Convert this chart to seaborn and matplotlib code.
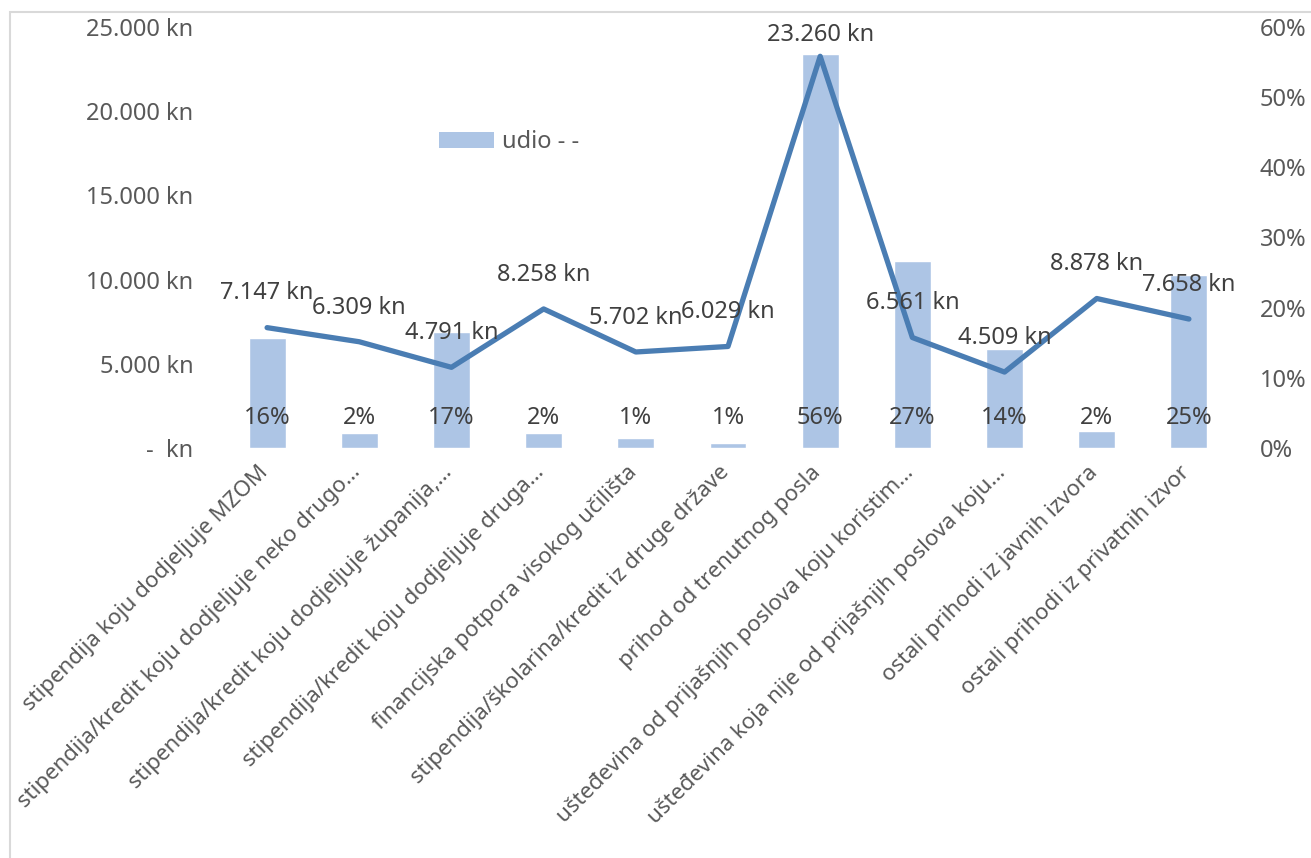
import matplotlib
matplotlib.use("Agg")
import matplotlib.pyplot as plt
import matplotlib.transforms as mtransforms
from matplotlib.patches import Rectangle, Patch
import seaborn as sns
import pandas as pd

# data
categories = [
    "stipendija koju dodjeljuje MZOM",
    "stipendija/kredit koju dodjeljuje neko drugo…",
    "stipendija/kredit koju dodjeljuje županija,…",
    "stipendija/kredit koju dodjeljuje druga…",
    "financijska potpora visokog učilišta",
    "stipendija/školarina/kredit iz druge države",
    "prihod od trenutnog posla",
    "ušteđevina od prijašnjih poslova koju koristim…",
    "ušteđevina koja nije od prijašnjih poslova koju…",
    "ostali prihodi iz javnih izvora",
    "ostali prihodi iz privatnih izvor",
]
udio = [15.7, 2.1, 16.6, 2.1, 1.4, 0.7, 56.2, 26.6, 14.1, 2.4, 24.6]  # percent
iznos = [7147, 6309, 4791, 8258, 5702, 6029, 23260, 6561, 4509, 8878, 7658]  # kn
kn_ticks = [0, 5000, 10000, 15000, 20000, 25000]
pct_ticks = [0, 10, 20, 30, 40, 50, 60]

df = pd.DataFrame({"kategorija": categories, "udio": udio, "iznos": iznos,
                   "idx": range(len(categories))})

sns.set_style("white")
plt.rcParams["font.family"] = ["Noto Sans", "DejaVu Sans"]

bar_col = "#adc5e5"
line_col = "#4a7db3"
txt_col = "#404040"
axis_col = "#595959"

fig = plt.figure(figsize=(13.11, 8.58), dpi=100)
ax = fig.add_axes([221 / 1311, 1 - 448 / 858, (1235 - 221) / 1311, (448 - 27) / 858])
ax2 = ax.twinx()

# bars (percent, right axis)
sns.barplot(data=df, x="kategorija", y="udio", order=categories, color=bar_col,
            saturation=1, width=0.4, ax=ax2)
ax2.set_ylim(0, 60)
ax2.set_yticks(pct_ticks)
ax2.set_yticklabels([f"{t}%" for t in pct_ticks], fontsize=17, color=axis_col)
ax2.tick_params(axis="y", length=0, pad=18)
ax2.set_ylabel("")
ax2.set_xlabel("")

# line (kn, left axis), drawn on top of bars
ax.set_zorder(ax2.get_zorder() + 1)
ax.patch.set_visible(False)
sns.lineplot(data=df, x="idx", y="iznos", color=line_col, linewidth=3.8,
             solid_capstyle="round", solid_joinstyle="round", ax=ax)
ax.set_ylim(0, 25000)
ax.set_xlim(-0.5, len(categories) - 0.5)
ax2.set_xlim(-0.5, len(categories) - 0.5)
ax.set_yticks(kn_ticks)
ax.set_yticklabels([f"{t:,}".replace(",", ".") + " kn" if t else "-  kn" for t in kn_ticks],
                   fontsize=17, color=axis_col)
ax.tick_params(axis="y", length=0, pad=20)
ax.set_ylabel("")
ax.set_xlabel("")

ax.set_xticks(range(len(categories)))
ax.set_xticklabels(categories, rotation=45, ha="right", va="top",
                   rotation_mode="anchor", fontsize=16, color=axis_col)
ax.tick_params(axis="x", length=0, pad=10)
ax2.tick_params(axis="x", length=0, labelbottom=False)
shift = mtransforms.ScaledTranslation(-7 / 72, 0, fig.dpi_scale_trans)
for lbl in ax.get_xticklabels():
    lbl.set_transform(lbl.get_transform() + shift)

for a in (ax, ax2):
    for s in a.spines.values():
        s.set_visible(False)
    a.grid(False)

# data labels on line (kept inside the plot area near the top)
for i, v in enumerate(iznos):
    off = 16 if v < 0.85 * 25000 else 7
    ax.annotate(f"{v:,}".replace(",", ".") + " kn", (i, v), xytext=(0, off),
                textcoords="offset points", ha="center", va="bottom",
                fontsize=17, color=txt_col)

# percentage labels near bar base
trans = mtransforms.blended_transform_factory(ax2.transData, ax2.transAxes)
for i, v in enumerate(udio):
    ax2.text(i, 0.071, f"{round(v)}%", transform=trans, ha="center", va="center",
             fontsize=17, color=txt_col)

# legend
ax.legend(handles=[Patch(facecolor=bar_col, edgecolor="none", label="udio - -")],
          loc="center left", bbox_to_anchor=(0.215, 0.727), frameon=False,
          fontsize=17, handlelength=2.35, handleheight=0.65, handletextpad=0.3,
          borderpad=0, borderaxespad=0, labelcolor=axis_col)

# chart area border
fig.patches.append(Rectangle((10 / 1311, -0.05), 1.1, 1 - 12 / 858 + 0.05,
                             transform=fig.transFigure, fill=False,
                             edgecolor="#d9d9d9", linewidth=1.5, clip_on=False))

fig.savefig("out.png", dpi=100)
